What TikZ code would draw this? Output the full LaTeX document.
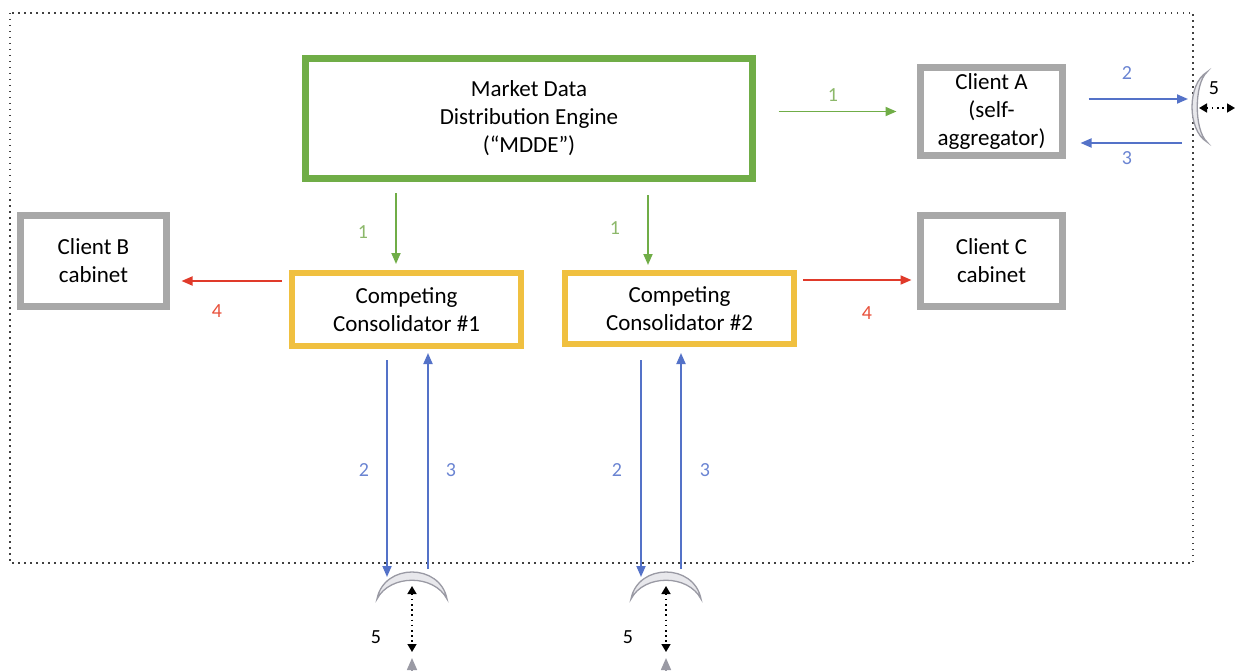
\documentclass[tikz,border=0pt]{standalone}
\usepackage{fontspec}
\setmainfont{Carlito}
\usetikzlibrary{arrows.meta}

\definecolor{mddegreen}{HTML}{70AD47}
\definecolor{consgold}{HTML}{F0C040}
\definecolor{clientgray}{HTML}{A8A8A8}
\definecolor{linkblue}{HTML}{5472C8}
\definecolor{linkred}{HTML}{E03A2A}
\definecolor{lblgreen}{HTML}{8CB86A}
\definecolor{lblblue}{HTML}{6A84D2}
\definecolor{lblred}{HTML}{E8503A}
\definecolor{dishfill}{HTML}{E8E8EC}
\definecolor{dishline}{HTML}{9A9AA4}

\begin{document}
\begin{tikzpicture}
    [x=1pt,y=-1pt,%%%%%%%%%%%%%%%%%%%%%%%%%%%%%%
        box/.style={rectangle,draw,line width=7pt,inner sep=0pt,align=center,
            font=\fontsize{23}{28}\selectfont},
        engine/.style={box,draw=mddegreen,minimum width=447pt,minimum height=120pt},
        client/.style={box,draw=clientgray,minimum width=142pt,minimum height=91pt},
        consol/.style={box,draw=consgold,line width=6pt,minimum width=229pt,minimum height=73pt},
        link/.style={line width=1.8pt,-{Triangle[length=11pt,width=9pt]}},
        feed/.style={link,draw=mddegreen},
        resale/.style={link,draw=linkred},
        order/.style={link,draw=linkblue},
        lbl/.style={inner sep=0pt,font=\fontsize{20}{20}\selectfont},
        dish/.style={draw=dishline,fill=dishfill,line width=1.3pt},
        hop/.style={line width=1.6pt,dash pattern=on 1.6pt off 3.6pt,
            {Triangle[length=8pt,width=9pt]}-{Triangle[length=8pt,width=9pt]}},
        frame/.style={draw=black!75,line width=1.5pt,dash pattern=on 1.5pt off 4.5pt},
    ]%%%%%%%%%%%%%%%%%%%%%%%%%%%%%%

\useasboundingbox (0,0) rectangle (1239,671);
\clip (0,0) rectangle (1239,671);

\draw[frame] (10,13) rectangle (1193,563);

% boxes
\node[engine] (mdde) at (529,118.5) {Market Data\\Distribution Engine\\(“MDDE”)};
\node[client] (clientA) at (991.5,111.5) [minimum height=88pt] {Client A\\(self-\\aggregator)};
\node[client] (clientB) at (93.5,261) [minimum width=146pt] {Client B\\cabinet};
\node[client] (clientC) at (991.5,261) {Client C\\cabinet};
\node[consol] (cons1) at (406.5,309.5) {Competing\\Consolidator \#1};
\node[consol] (cons2) at (679.5,308.5) [minimum height=71pt] {Competing\\Consolidator \#2};

% dishes
\foreach \x in {412,666}{
    \draw[dish] (\x-35,599) .. controls (\x-28,563) and (\x+28,563) .. (\x+35,599)
        .. controls (\x+22,574) and (\x-22,574) .. (\x-35,599) -- cycle;
}
\draw[dish] (1207,72) .. controls (1187,84) and (1187,130) .. (1207,142)
    .. controls (1194,130) and (1194,84) .. (1207,72) -- cycle;
\coordinate (dish1) at (412,572);
\coordinate (dish2) at (666,572);
\coordinate (dishA) at (1192,107);

% 1: feed
\draw[feed,shorten <=22.5pt,shorten >=20.5pt] (mdde.east |- clientA.west) -- (clientA.west);
\draw[feed,shorten <=11.5pt,shorten >=6pt] ([xshift=-133pt]mdde.south) -- ([xshift=-10.5pt]cons1.north);
\draw[feed,shorten <=13.5pt,shorten >=5pt] ([xshift=119pt]mdde.south) -- ([xshift=-31.5pt]cons2.north);

% 4: resale
\draw[resale,shorten <=7pt,shorten >=11.5pt] ([yshift=28.5pt]cons1.west) -- ([yshift=-20pt]clientB.east);
\draw[resale,shorten <=6pt,shorten >=5.5pt] ([yshift=28.5pt]cons2.east) -- ([yshift=-19pt]clientC.west);

% 2 and 3: orders
\draw[order,shorten <=22.5pt] ([yshift=12.5pt]clientA.east) -- ([xshift=-4pt,yshift=8pt]dishA);
\draw[order,shorten >=14.5pt] ([xshift=-10pt,yshift=-36pt]dishA) -- ([yshift=-31.5pt]clientA.east);
\draw[order,shorten <=11pt] ([xshift=-19.5pt]cons1.south) -- ([xshift=-25pt,yshift=-5pt]dish1);
\draw[order,shorten >=4pt] ([xshift=16pt,yshift=3pt]dish1) -- ([xshift=21.5pt]cons1.south);
\draw[order,shorten <=13pt] ([xshift=-38.5pt]cons2.south) -- ([xshift=-25pt,yshift=-5pt]dish2);
\draw[order,shorten >=6pt] ([xshift=15pt,yshift=3pt]dish2) -- ([xshift=1.5pt]cons2.south);

% 5: hops
\draw[hop] ([yshift=-14pt]dish1) -- ([yshift=-80pt]dish1);
\draw[hop] ([yshift=-14pt]dish2) -- ([yshift=-80pt]dish2);
\draw[hop] ([xshift=7pt,yshift=-1pt]dishA) -- ([xshift=43pt,yshift=-1pt]dishA);
\draw[line width=1.6pt,draw=dishline,-{Triangle[length=12pt,width=10pt]},color=dishline]
    ([yshift=-118pt]dish1) -- ([yshift=-86pt]dish1);
\draw[line width=1.6pt,draw=dishline,-{Triangle[length=12pt,width=10pt]},color=dishline]
    ([yshift=-118pt]dish2) -- ([yshift=-86pt]dish2);

% labels
\node[lbl,text=lblgreen] (n1a) at (833,95) {1};
\node[lbl,text=lblgreen] (n1b) at (363,232) {1};
\node[lbl,text=lblgreen] (n1c) at (615,228) {1};
\node[lbl,text=lblred] (n4a) at (217,311) {4};
\node[lbl,text=lblred] (n4b) at (867,313) {4};
\node[lbl,text=lblblue] (n2a) at (1127,73) {2};
\node[lbl,text=lblblue] (n3a) at (1127,158) {3};
\node[lbl,text=lblblue] (n2b) at (364,470) {2};
\node[lbl,text=lblblue] (n3b) at (451,470) {3};
\node[lbl,text=lblblue] (n2c) at (617,470) {2};
\node[lbl,text=lblblue] (n3c) at (705,470) {3};
\node[lbl] (n5a) at (1214,88) {5};
\node[lbl] (n5b) at (376,637) {5};
\node[lbl] (n5c) at (628,637) {5};
\end{tikzpicture}
\end{document}
